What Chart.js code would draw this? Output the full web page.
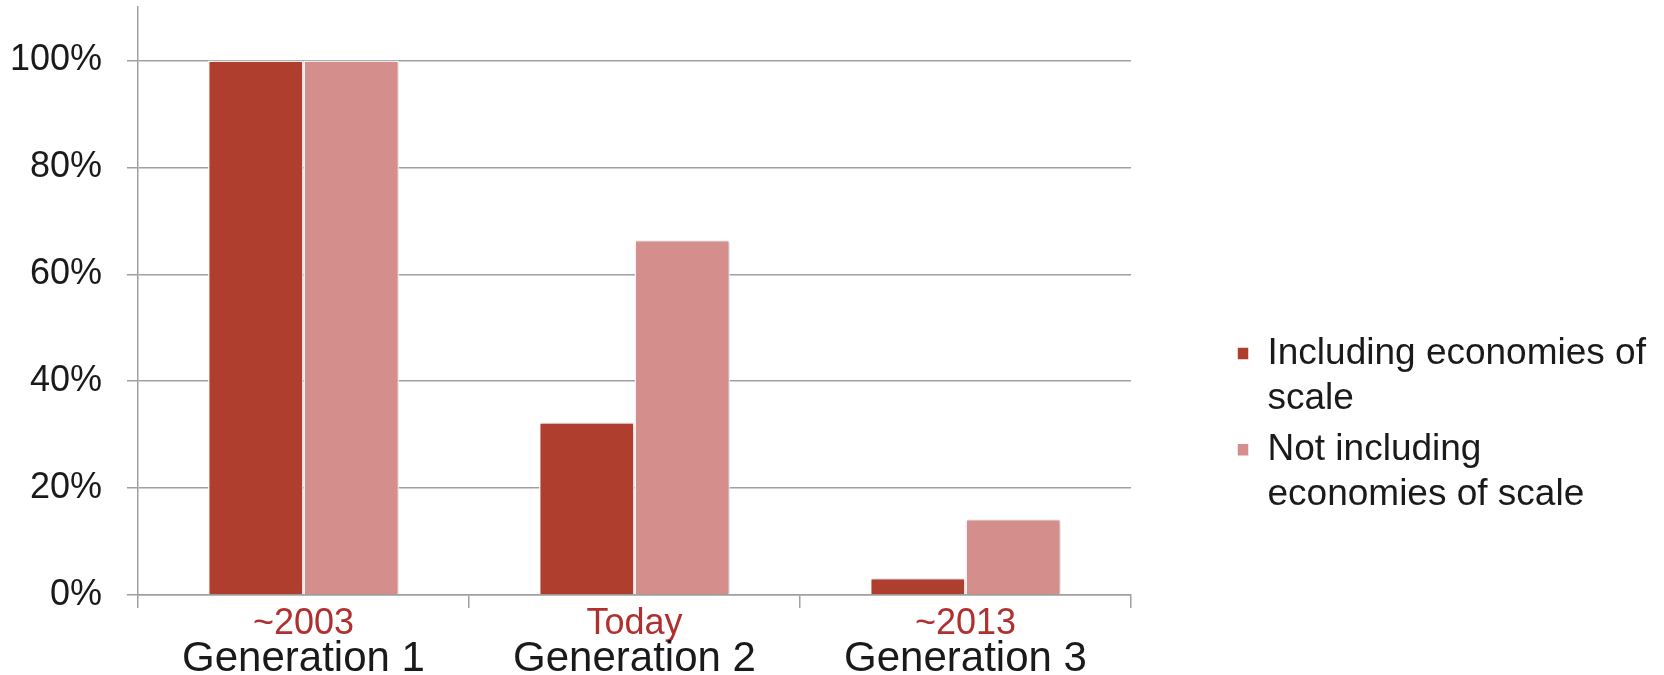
<!DOCTYPE html>
<html>
<head>
<meta charset="utf-8">
<script src="https://cdn.jsdelivr.net/npm/chart.js@4/dist/chart.umd.min.js"></script>
<style>
  html, body { margin: 0; padding: 0; background: #ffffff; }
  #wrap { width: 1664px; height: 675px; position: relative; }
</style>
</head>
<body>
<div id="wrap"><canvas id="c" width="1664" height="675"></canvas></div>
<script>
// ---- data ----
const periods = ['~2003', 'Today', '~2013'];
const generations = ['Generation 1', 'Generation 2', 'Generation 3'];
const seriesIncluding = [100, 32.3, 3.2];
const seriesNotIncluding = [100, 66.4, 14.2];
const seriesNames = [['Including economies of', 'scale'], ['Not including', 'economies of scale']];
const yTickValues = [0, 20, 40, 60, 80, 100];

const FONT = "'Liberation Sans', Arial, Helvetica, sans-serif";
const GRID = '#a0a0a0';

const barShadow = {
  id: 'barShadow',
  beforeDatasetsDraw(chart) {
    const ctx = chart.ctx;
    ctx.save();
    ctx.shadowColor = 'rgba(0,0,0,0.22)';
    ctx.shadowBlur = 4;
    ctx.shadowOffsetX = 1;
    ctx.shadowOffsetY = 0;
  },
  afterDatasetsDraw(chart) {
    chart.ctx.restore();
  }
};

const legendPlace = {
  id: 'legendPlace',
  afterLayout(chart) {
    const lg = chart.legend;
    if (!lg) return;
    lg.left = 1231; lg.width = 433; lg.right = lg.left + lg.width;
    lg.top = 329; lg.bottom = 672; lg.height = lg.bottom - lg.top;
  }
};

new Chart(document.getElementById('c'), {
  type: 'bar',
  data: {
    labels: periods,
    datasets: [
      { label: seriesNames[0], data: seriesIncluding, backgroundColor: '#AF3E2E', borderColor: '#ffffff', borderWidth: 1.5, borderSkipped: 'start' },
      { label: seriesNames[1], data: seriesNotIncluding, backgroundColor: '#D48E8B', borderColor: '#ffffff', borderWidth: 1.5, borderSkipped: 'start' }
    ]
  },
  options: {
    responsive: false,
    animation: false,
    devicePixelRatio: 1,
    layout: { padding: { left: 12, top: 7, right: 233, bottom: 0 } },
    datasets: { bar: { categoryPercentage: 0.577, barPercentage: 1.0 } },
    plugins: {
      tooltip: { enabled: false },
      legend: {
        position: 'right',
        align: 'start',
        maxWidth: 300,
        labels: {
          boxWidth: 12,
          boxHeight: 13,
          padding: 6,
          color: '#1a1a1a',
          font: { family: FONT, size: 37, lineHeight: 1.22 }
        }
      }
    },
    scales: {
      x: {
        type: 'category',
        position: 'bottom',
        weight: 0,
        offset: true,
        afterFit(scale) { scale.height = 38; scale._computeLabelArea = () => undefined; },
        grid: { display: true, drawOnChartArea: false, drawTicks: true, tickLength: 13, color: GRID, lineWidth: 1.5, offset: true },
        border: { display: true, color: GRID, width: 1.5 },
        ticks: { color: '#B03030', padding: -2, font: { family: FONT, size: 36, lineHeight: 1.0 }, maxRotation: 0, autoSkip: false }
      },
      x2: {
        type: 'category',
        labels: generations,
        position: 'bottom',
        weight: 1,
        offset: true,
        afterFit(scale) { scale.height = 42; scale._computeLabelArea = () => undefined; },
        grid: { display: false, drawTicks: false },
        border: { display: false },
        ticks: { color: '#1a1a1a', padding: 5, font: { family: FONT, size: 42, lineHeight: 1.0 }, maxRotation: 0, autoSkip: false }
      },
      y: {
        min: 0,
        max: 110,
        afterBuildTicks(scale) { scale.ticks = yTickValues.map(v => ({ value: v })); },
        afterFit(scale) { scale.width = 126; scale.paddingTop = 0; scale.paddingBottom = 0; },
        grid: { color: GRID, lineWidth: 1.5, drawTicks: true, tickLength: 11 },
        border: { display: true, color: GRID, width: 1.5 },
        ticks: { color: '#1a1a1a', padding: 25, font: { family: FONT, size: 36 }, callback: v => v + '%' }
      }
    }
  },
  plugins: [barShadow, legendPlace]
});
</script>
</body>
</html>
